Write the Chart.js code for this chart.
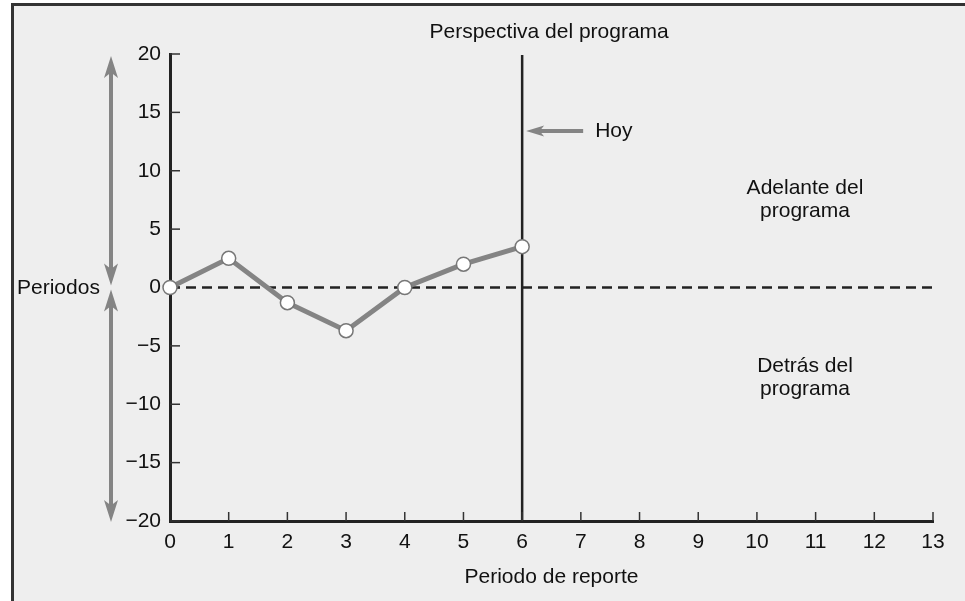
<!DOCTYPE html>
<html>
<head>
<meta charset="utf-8">
<script src="https://cdn.jsdelivr.net/npm/chart.js@4.4.1/dist/chart.umd.min.js"></script>
<style>
  html, body { margin: 0; padding: 0; background: #fff; }
  canvas { display: block; }
</style>
</head>
<body>
<canvas id="grafico" width="965" height="601"></canvas>
<script>
// periodos de reporte (eje x) y desviación del programa en cada uno
const periodos = ['0', '1', '2', '3', '4', '5', '6', '7', '8', '9', '10', '11', '12', '13'];
const desviacion = [0, 2.5, -1.3, -3.7, 0, 2, 3.5];
const marcasY = [-20, -15, -10, -5, 0, 5, 10, 15, 20];
const periodoHoy = 6;

const FUENTE = '"Liberation Sans", Arial, Helvetica, sans-serif';
const GRIS = '#848484';
const OSCURO = '#222';
const TEXTO = '#111';

// punta de flecha hendida con vértice en (x2,y2), orientada desde (x1,y1)
function punta(ctx, x1, y1, x2, y2, largo, ancho) {
  const dx = x2 - x1, dy = y2 - y1;
  const len = Math.hypot(dx, dy);
  const ux = dx / len, uy = dy / len;
  const nx = -uy, ny = ux;
  const bx = x2 - ux * largo, by = y2 - uy * largo;
  const mx = x2 - ux * largo * 0.75, my = y2 - uy * largo * 0.75;
  ctx.fillStyle = GRIS;
  ctx.beginPath();
  ctx.moveTo(x2, y2);
  ctx.lineTo(bx + nx * ancho, by + ny * ancho);
  ctx.lineTo(mx, my);
  ctx.lineTo(bx - nx * ancho, by - ny * ancho);
  ctx.closePath();
  ctx.fill();
}

function linea(ctx, x1, y1, x2, y2, grosor) {
  ctx.strokeStyle = GRIS;
  ctx.lineWidth = grosor;
  ctx.beginPath();
  ctx.moveTo(x1, y1);
  ctx.lineTo(x2, y2);
  ctx.stroke();
}

// flecha vertical con punta en los dos extremos
function dobleFlecha(ctx, x, yA, yB) {
  linea(ctx, x, yA + 16, x, yB - 16, 4);
  punta(ctx, x, yB, x, yA, 22, 7);
  punta(ctx, x, yA, x, yB, 22, 7);
}

function texto(ctx, t, x, y, align) {
  ctx.fillStyle = TEXTO;
  ctx.font = '21px ' + FUENTE;
  ctx.textAlign = align || 'center';
  ctx.textBaseline = 'middle';
  ctx.fillText(t, x, y);
}

const decorado = {
  id: 'decorado',
  beforeDraw(chart) {
    const ctx = chart.ctx;
    ctx.save();
    ctx.fillStyle = '#fff';
    ctx.fillRect(0, 0, chart.width, chart.height);
    ctx.fillStyle = '#eeeeee';
    ctx.fillRect(12, 5, chart.width - 12, chart.height - 5);
    // marco superior e izquierdo
    ctx.fillStyle = '#333';
    ctx.fillRect(11, 3, chart.width - 11, 3);
    ctx.fillRect(11, 3, 3, chart.height - 3);
    ctx.restore();
  },
  beforeDatasetsDraw(chart) {
    const { ctx, chartArea, scales: { x, y } } = chart;
    ctx.save();
    // línea de referencia en cero
    const y0 = y.getPixelForValue(0);
    ctx.strokeStyle = OSCURO;
    ctx.lineWidth = 2.5;
    ctx.setLineDash([10, 6]);
    ctx.beginPath();
    ctx.moveTo(chartArea.left, y0);
    ctx.lineTo(chartArea.right, y0);
    ctx.stroke();
    ctx.setLineDash([]);
    // línea vertical del periodo actual
    const xh = x.getPixelForValue(periodoHoy);
    ctx.lineWidth = 2.5;
    ctx.beginPath();
    ctx.moveTo(xh, chartArea.top + 1);
    ctx.lineTo(xh, chartArea.bottom);
    ctx.stroke();
    // marcas de los ejes hacia dentro
    ctx.lineWidth = 1.5;
    ctx.strokeStyle = '#333';
    marcasY.forEach(v => {
      const py = y.getPixelForValue(v);
      ctx.beginPath();
      ctx.moveTo(chartArea.left, py);
      ctx.lineTo(chartArea.left + 10, py);
      ctx.stroke();
    });
    periodos.forEach((p, i) => {
      if (i === 0) return;
      const px = x.getPixelForValue(i);
      ctx.beginPath();
      ctx.moveTo(px, chartArea.bottom);
      ctx.lineTo(px, chartArea.bottom - 9);
      ctx.stroke();
    });
    ctx.restore();
  },
  afterDraw(chart) {
    const { ctx, chartArea, scales: { x, y } } = chart;
    ctx.save();
    const y0 = y.getPixelForValue(0);
    const xh = x.getPixelForValue(periodoHoy);
    const centro = (chartArea.left + chartArea.right) / 2;

    texto(ctx, 'Perspectiva del programa', xh + 27, 32);
    texto(ctx, 'Periodo de reporte', centro, 577);
    texto(ctx, 'Periodos', 17, y0 + 1, 'left');

    // flechas de periodos adelante / detrás
    dobleFlecha(ctx, 111, y.getPixelForValue(20) + 2, y0 - 2);
    dobleFlecha(ctx, 111, y0 + 2, y.getPixelForValue(-20) + 1);

    // indicador de hoy
    const yHoy = y.getPixelForValue(13.4);
    linea(ctx, xh + 61, yHoy, xh + 16, yHoy, 4);
    punta(ctx, xh + 61, yHoy, xh + 4, yHoy, 18, 5.5);
    texto(ctx, 'Hoy', xh + 73, yHoy, 'left');

    texto(ctx, 'Adelante del', 805, 188);
    texto(ctx, 'programa', 805, 211);
    texto(ctx, 'Detrás del', 805, 366);
    texto(ctx, 'programa', 805, 389);
    ctx.restore();
  }
};

new Chart(document.getElementById('grafico'), {
  type: 'line',
  data: {
    labels: periodos,
    datasets: [{
      data: desviacion,
      borderColor: GRIS,
      borderWidth: 5,
      pointRadius: 7,
      pointBackgroundColor: '#fff',
      pointBorderColor: '#777',
      pointBorderWidth: 1.5,
      tension: 0,
      clip: false
    }]
  },
  options: {
    responsive: false,
    devicePixelRatio: 1,
    animation: false,
    layout: { padding: { left: 0, right: 32, top: 54, bottom: 0 } },
    plugins: { legend: { display: false }, tooltip: { enabled: false } },
    scales: {
      x: {
        type: 'category',
        offset: false,
        grid: { display: false, drawTicks: false },
        border: { display: true, color: OSCURO, width: 3 },
        ticks: { color: TEXTO, font: { family: FUENTE, size: 21 }, padding: 9, maxRotation: 0, autoSkip: false },
        afterFit(s) { s.height = 80; }
      },
      y: {
        min: -20,
        max: 20,
        afterBuildTicks(s) { s.ticks = marcasY.map(v => ({ value: v })); },
        grid: { display: false, drawTicks: false },
        border: { display: true, color: OSCURO, width: 3 },
        ticks: {
          color: TEXTO,
          font: { family: FUENTE, size: 21 },
          padding: 9,
          callback: v => v < 0 ? '\u2212' + Math.abs(v) : String(v)
        },
        afterFit(s) { s.width = 170; }
      }
    }
  },
  plugins: [decorado]
});
</script>
</body>
</html>
